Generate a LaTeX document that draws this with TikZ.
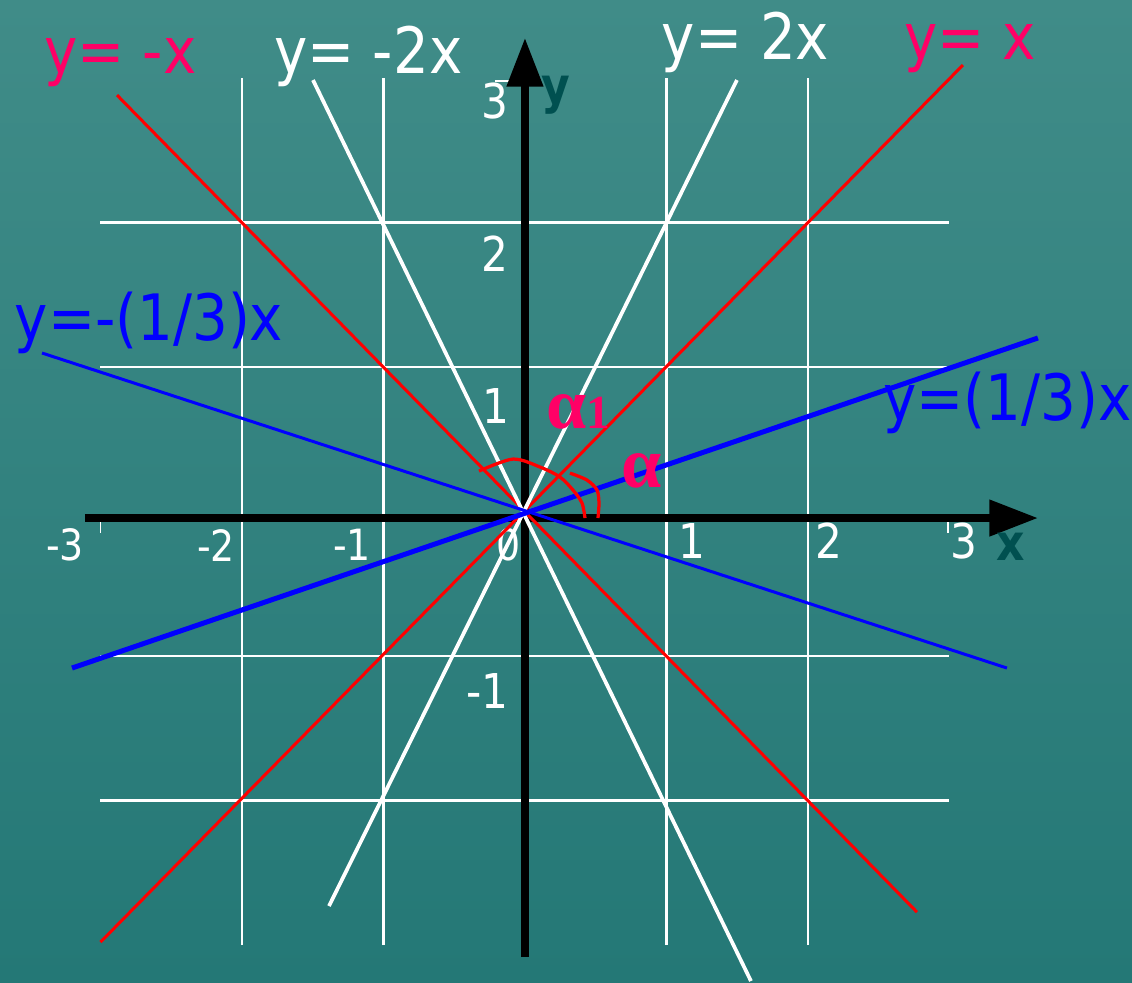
\documentclass[tikz,border=0pt]{standalone}
\usepackage{fontspec}
\setmainfont{DejaVu Sans}[FakeStretch=0.88]
\newfontfamily\alphafont{Liberation Serif}
\usetikzlibrary{arrows.meta}

\definecolor{bgtop}{RGB}{64,140,136}
\definecolor{bgbot}{RGB}{36,120,118}
\definecolor{pinkred}{RGB}{255,0,102}
\definecolor{axisteal}{RGB}{0,80,80}

\tikzset{
    eqlabel/.style={font=\fontsize{36.4}{40}\selectfont, anchor=base, inner sep=0pt},
    numbig/.style={font=\fontsize{27.3}{30}\selectfont, text=white, inner sep=0pt},
    numsmall/.style={font=\fontsize{24.5}{27}\selectfont, text=white, inner sep=0pt},
    axislabel/.style={font=\fontsize{28.5}{30}\selectfont\bfseries, text=axisteal, anchor=base, inner sep=0pt},
    axisline/.style={line width=0.15cm, -{Triangle[length=0.97cm,width=0.7cm]}},
    anglelabel/.style={font=\alphafont\bfseries\fontsize{41}{44}\selectfont, text=pinkred, anchor=base, inner sep=0pt}
}

\begin{document}
\begin{tikzpicture}[
    x=2.83cm,
    y=2.89cm
]

% --- Hintergrund ---
\useasboundingbox (-3.710,-3.256) rectangle (4.290,3.540);
\shade[top color=bgtop, bottom color=bgbot] (-3.710,-3.256) rectangle (4.290,3.540);

% --- Gitter ---
\draw[white,line width=0.045cm]
    (-2,-3) -- (-2,3) (-1,-3) -- (-1,3) (1,-3) -- (1,3) (2,-3) -- (2,3)
    (-3,-2) -- (3,-2) (-3,-1) -- (3,-1) (-3,1) -- (3,1) (-3,2) -- (3,2);

% kleine Striche bei 3
\draw[white,line width=0.03cm] (-3,-0.05) -- (-3,-0.15);
\draw[white,line width=0.03cm] (2.99,-0.05) -- (2.99,-0.15);
\draw[white,line width=0.03cm] (-0.21,2.98) -- (0,2.98);

% --- Achsen ---
\coordinate (xstart) at (-3.11,-0.045);
\coordinate (xend) at (3.625,-0.045);
\coordinate (ystart) at (0,-3.083);
\coordinate (yend) at (0,3.277);
\draw[axisline] (xstart) -- (xend);
\draw[axisline] (ystart) -- (yend);

\node[axislabel] (xlabel) at (3.435,-0.336) {x};
\node[axislabel] (ylabel) at (0.219,2.827) {y};

% Beschriftung x-Achse
\node[numsmall] (xm3) at (-3.251,-0.232) {-3};
\node[numsmall] (xm2) at (-2.184,-0.232) {-2};
\node[numsmall] (xm1) at (-1.223,-0.232) {-1};
\node[numsmall] (x0) at (-0.113,-0.232) {0};
\node[numbig] (x1) at (1.180,-0.201) {1};
\node[numbig] (x2) at (2.145,-0.201) {2};
\node[numbig] (x3) at (3.099,-0.201) {3};

% Beschriftung y-Achse
\node[numbig] (y3) at (-0.212,2.841) {3};
\node[numbig] (y2) at (-0.212,1.785) {2};
\node[numbig] (y1) at (-0.205,0.730) {1};
\node[numbig] (ym1) at (-0.265,-1.242) {-1};

% --- Geraden y = x und y = -x ---
\draw[red,line width=0.06cm] (-3,-2.98) -- (3.095,3.09);
\draw[red,line width=0.06cm] (-2.883,2.882) -- (2.770,-2.772);

% --- Geraden y = 2x und y = -2x ---
\draw[white,line width=0.075cm] (-1.385,-2.730) -- (1.498,2.986);
\draw[white,line width=0.075cm] (-1.498,2.986) -- (1.597,-3.249);

% --- Geraden y = x/3 und y = -x/3 ---
\draw[blue,line width=0.1cm] (-3.201,-1.083) -- (3.625,1.201);
\draw[blue,line width=0.06cm] (-3.413,1.097) -- (3.406,-1.083);

% --- Winkelboegen ---
\draw[red,line width=0.065cm] plot[smooth] coordinates {
    (-0.325,0.280) (-0.085,0.363) (0.106,0.308) (0.247,0.239)
    (0.339,0.149) (0.403,0.059) (0.424,-0.045)};
\draw[red,line width=0.065cm] plot[smooth] coordinates {
    (0.318,0.266) (0.438,0.218) (0.509,0.149) (0.523,0.059) (0.516,-0.045)};

\node[anglelabel, anchor=base west] (alpha1) at (0.148,0.578)
    {α\fontsize{27}{30}\selectfont 1};
\node[anglelabel] (alpha) at (0.827,0.163) {α};

% --- Gleichungen ---
\node[eqlabel, text=pinkred] (eqmx) at (-2.859,3.028) {y= -x};
\node[eqlabel, text=white] (eqmtwo) at (-1.106,3.028) {y= -2x};
\node[eqlabel, text=white] (eqtwo) at (1.558,3.125) {y= 2x};
\node[eqlabel, text=pinkred] (eqx) at (3.145,3.125) {y= x};
\node[eqlabel, text=blue] (eqmthird) at (-2.657,1.187) {y=-(1/3)x};
\node[eqlabel, text=blue] (eqthird) at (3.410,0.633) {y=(1/3)x};

\end{tikzpicture}
\end{document}
